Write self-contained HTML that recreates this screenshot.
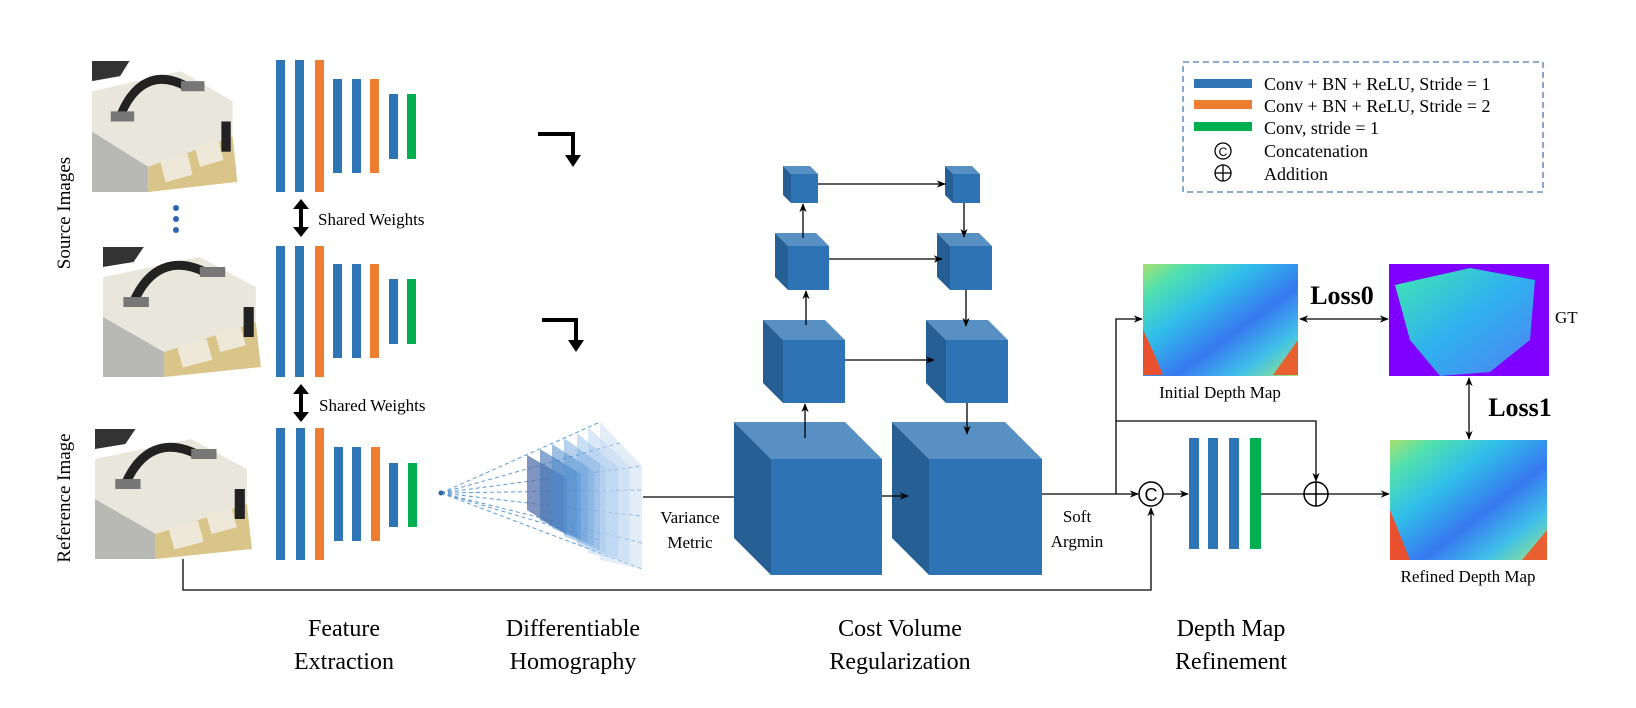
<!DOCTYPE html>
<html><head><meta charset="utf-8"><style>
html,body{margin:0;padding:0;background:#fff;}
svg{display:block;font-family:"Liberation Serif",serif;}
</style></head><body>
<svg width="1636" height="708" viewBox="0 0 1636 708" xmlns="http://www.w3.org/2000/svg">
<defs>
<marker id="ah" viewBox="0 0 10 10" refX="9" refY="5" markerWidth="7" markerHeight="7" orient="auto-start-reverse"><path d="M0,1 L10,5 L0,9 L3,5 z" fill="#000"/></marker>
<linearGradient id="dm" x1="0" y1="0" x2="1" y2="1">
<stop offset="0" stop-color="#a8e070"/><stop offset="0.15" stop-color="#50e0b0"/><stop offset="0.35" stop-color="#30c0e8"/><stop offset="0.6" stop-color="#3878f0"/><stop offset="0.8" stop-color="#40c0e8"/><stop offset="1" stop-color="#a0e880"/>
</linearGradient>
<linearGradient id="gtg" x1="0" y1="0" x2="1" y2="1">
<stop offset="0" stop-color="#40e8b0"/><stop offset="0.5" stop-color="#30b0f0"/><stop offset="1" stop-color="#5080f0"/>
</linearGradient>
<g id="photo">
<rect x="0" y="0" width="160" height="130" fill="#fff"/>
<polygon points="0,30 95,10 150,40 150,75 60,105 0,70" fill="#e9e6dc"/>
<polygon points="0,70 60,105 60,130 0,130" fill="#b8b8b4"/>
<polygon points="60,105 150,75 155,120 60,130" fill="#d9c58a"/>
<rect x="75" y="95" width="30" height="22" fill="#eee8d8" transform="rotate(-15 90 106)"/>
<rect x="112" y="82" width="26" height="20" fill="#eee8d8" transform="rotate(-15 125 92)"/>
<path d="M30,55 C45,20 70,10 100,25" stroke="#222" stroke-width="9" fill="none"/>
<rect x="20" y="50" width="25" height="10" fill="#777"/>
<rect x="95" y="20" width="25" height="10" fill="#777"/>
<rect x="138" y="60" width="10" height="30" fill="#222"/>
<path d="M0,0 L40,0 L30,15 L0,20 z" fill="#333"/>
</g>
</defs>

<svg x="92" y="61" width="150" height="131" viewBox="0 0 160 130" preserveAspectRatio="none"><use href="#photo"/></svg>
<svg x="103" y="247" width="163" height="130" viewBox="0 0 160 130" preserveAspectRatio="none"><use href="#photo"/></svg>
<svg x="95" y="429" width="162" height="130" viewBox="0 0 160 130" preserveAspectRatio="none"><use href="#photo"/></svg>

<text transform="translate(70,213) rotate(-90)" font-size="19" text-anchor="middle">Source Images</text>
<text transform="translate(70,498) rotate(-90)" font-size="19" text-anchor="middle">Reference Image</text>
<circle cx="176" cy="208" r="3" fill="#2e65b0"/><circle cx="176" cy="219" r="3" fill="#2e65b0"/><circle cx="176" cy="230" r="3" fill="#2e65b0"/>

<g>
<rect x="276" y="60" width="9" height="132" fill="#2e75b6"/><rect x="295" y="60" width="9" height="132" fill="#2e75b6"/><rect x="315" y="60" width="9" height="132" fill="#ed7d31"/>
<rect x="333" y="79" width="9" height="94" fill="#2e75b6"/><rect x="352" y="79" width="9" height="94" fill="#2e75b6"/><rect x="370" y="79" width="9" height="94" fill="#ed7d31"/>
<rect x="389" y="94" width="9" height="65" fill="#2e75b6"/><rect x="407" y="94" width="9" height="65" fill="#00b050"/>
</g>
<g>
<rect x="276" y="246" width="9" height="131" fill="#2e75b6"/><rect x="295" y="246" width="9" height="131" fill="#2e75b6"/><rect x="315" y="246" width="9" height="131" fill="#ed7d31"/>
<rect x="333" y="264" width="9" height="94" fill="#2e75b6"/><rect x="352" y="264" width="9" height="94" fill="#2e75b6"/><rect x="370" y="264" width="9" height="94" fill="#ed7d31"/>
<rect x="389" y="279" width="9" height="65" fill="#2e75b6"/><rect x="407" y="279" width="9" height="65" fill="#00b050"/>
</g>
<g>
<rect x="276" y="428" width="9" height="132" fill="#2e75b6"/><rect x="296" y="428" width="9" height="132" fill="#2e75b6"/><rect x="315" y="428" width="9" height="132" fill="#ed7d31"/>
<rect x="334" y="447" width="9" height="94" fill="#2e75b6"/><rect x="352" y="447" width="9" height="94" fill="#2e75b6"/><rect x="371" y="447" width="9" height="94" fill="#ed7d31"/>
<rect x="389" y="463" width="9" height="64" fill="#2e75b6"/><rect x="408" y="463" width="9" height="64" fill="#00b050"/>
</g>

<g fill="#000">
<rect x="299" y="207" width="4" height="22"/><polygon points="293,209 301,199 309,209"/><polygon points="293,227 301,237 309,227"/>
<rect x="299" y="392" width="4" height="22"/><polygon points="293,394 301,384 309,394"/><polygon points="293,412 301,422 309,412"/>
</g>
<text x="318" y="225" font-size="17">Shared Weights</text>
<text x="319" y="411" font-size="17">Shared Weights</text>

<g fill="#000">
<rect x="538" y="132" width="37" height="4"/><rect x="571" y="132" width="4" height="25"/><polygon points="565,155 581,155 573,167"/>
<rect x="542" y="318" width="36" height="4"/><rect x="574" y="318" width="4" height="24"/><polygon points="568,340 584,340 576,352"/>
</g>

<g stroke="#5b9bd5" stroke-width="1" stroke-dasharray="4,3" fill="none">
<line x1="441" y1="493" x2="600" y2="422"/><line x1="441" y1="493" x2="642" y2="466"/><line x1="441" y1="493" x2="642" y2="490"/><line x1="441" y1="493" x2="642" y2="516"/><line x1="441" y1="493" x2="642" y2="543"/><line x1="441" y1="493" x2="642" y2="569"/><line x1="441" y1="493" x2="620" y2="443"/><line x1="441" y1="493" x2="600" y2="540"/>
</g>
<g>
<polygon points="527,455 567,478 567,535 527,510" fill="#5470a8" fill-opacity="0.75"/>
<polygon points="540,449 581,474 581,540 540,520" fill="#4a78b8" fill-opacity="0.65"/>
<polygon points="552,444 594,471 594,546 552,528" fill="#4f8ccc" fill-opacity="0.55"/>
<polygon points="564,438 606,468 606,553 564,536" fill="#5a9ad6" fill-opacity="0.45"/>
<polygon points="577,433 618,467 618,558 577,545" fill="#7aaee0" fill-opacity="0.4"/>
<polygon points="588,427 630,466 630,563 588,553" fill="#a4c6ea" fill-opacity="0.4"/>
<polygon points="600,422 642,466 642,569 600,560" fill="#c5dbf1" fill-opacity="0.5"/>
</g>
<circle cx="441" cy="493" r="2.5" fill="#2e65a0"/>
<line x1="643" y1="497" x2="752" y2="497" stroke="#000" stroke-width="1.3" marker-end="url(#ah)"/>
<text x="690" y="523" font-size="17" text-anchor="middle">Variance</text>
<text x="690" y="548" font-size="17" text-anchor="middle">Metric</text>

<g>
<polygon points="734,422 845,422 882,459 771,459" fill="#5890c4"/><polygon points="734,422 771,459 771,575 734,538" fill="#255f93"/><rect x="771" y="459" width="111" height="116" fill="#2e74b5"/>
<polygon points="892,422 1005,422 1042,459 929,459" fill="#5890c4"/><polygon points="892,422 929,459 929,575 892,538" fill="#255f93"/><rect x="929" y="459" width="113" height="116" fill="#2e74b5"/>
<polygon points="763,320 825,320 845,340 783,340" fill="#5890c4"/><polygon points="763,320 783,340 783,403 763,383" fill="#255f93"/><rect x="783" y="340" width="62" height="63" fill="#2e74b5"/>
<polygon points="926,320 988,320 1008,340 946,340" fill="#5890c4"/><polygon points="926,320 946,340 946,403 926,383" fill="#255f93"/><rect x="946" y="340" width="62" height="63" fill="#2e74b5"/>
<polygon points="775,233 816,233 829,246 788,246" fill="#5890c4"/><polygon points="775,233 788,246 788,290 775,277" fill="#255f93"/><rect x="788" y="246" width="41" height="44" fill="#2e74b5"/>
<polygon points="937,233 979,233 992,246 950,246" fill="#5890c4"/><polygon points="937,233 950,246 950,290 937,277" fill="#255f93"/><rect x="950" y="246" width="42" height="44" fill="#2e74b5"/>
<polygon points="783,166 810,166 818,174 791,174" fill="#5890c4"/><polygon points="783,166 791,174 791,203 783,195" fill="#255f93"/><rect x="791" y="174" width="27" height="29" fill="#2e74b5"/>
<polygon points="945,166 972,166 980,174 953,174" fill="#5890c4"/><polygon points="945,166 953,174 953,203 945,195" fill="#255f93"/><rect x="953" y="174" width="27" height="29" fill="#2e74b5"/>
</g>
<g stroke="#000" stroke-width="1.3" fill="none" marker-end="url(#ah)">
<line x1="818" y1="184" x2="945" y2="184"/>
<line x1="829" y1="259" x2="942" y2="259"/>
<line x1="845" y1="360" x2="934" y2="360"/>
<line x1="882" y1="496" x2="908" y2="496"/>
<line x1="805" y1="438" x2="805" y2="404"/>
<line x1="806" y1="325" x2="806" y2="291"/>
<line x1="803" y1="238" x2="803" y2="204"/>
<line x1="964" y1="203" x2="964" y2="237"/>
<line x1="966" y1="290" x2="966" y2="326"/>
<line x1="967" y1="403" x2="967" y2="434"/>
</g>

<g stroke="#000" stroke-width="1.3" fill="none">
<polyline points="183,559 183,590 1151,590 1151,508" marker-end="url(#ah)"/>
<line x1="1042" y1="494" x2="1138" y2="494" marker-end="url(#ah)"/>
<polyline points="1116,494 1116,319 1142,319" marker-end="url(#ah)"/>
<polyline points="1116,421 1316,421 1316,481" marker-end="url(#ah)"/>
<line x1="1163" y1="494" x2="1188" y2="494" marker-end="url(#ah)"/>
<line x1="1261" y1="494" x2="1304" y2="494"/>
<line x1="1328" y1="494" x2="1389" y2="494" marker-end="url(#ah)"/>
<line x1="1300" y1="319" x2="1388" y2="319" marker-start="url(#ah)" marker-end="url(#ah)"/>
<line x1="1469" y1="378" x2="1469" y2="439" marker-start="url(#ah)" marker-end="url(#ah)"/>
</g>
<circle cx="1151" cy="494" r="12" fill="#fff" stroke="#000" stroke-width="1.5"/>
<text x="1151" y="501" font-family="Liberation Sans,sans-serif" font-size="18" text-anchor="middle">C</text>
<circle cx="1316" cy="494" r="12" fill="#fff" stroke="#000" stroke-width="1.5"/>
<line x1="1304" y1="494" x2="1328" y2="494" stroke="#000" stroke-width="1.5"/><line x1="1316" y1="482" x2="1316" y2="506" stroke="#000" stroke-width="1.5"/>
<rect x="1189" y="438" width="10" height="111" fill="#2e75b6"/><rect x="1208" y="438" width="10" height="111" fill="#2e75b6"/><rect x="1229" y="438" width="10" height="111" fill="#2e75b6"/><rect x="1250" y="438" width="11" height="111" fill="#00b050"/>
<text x="1077" y="522" font-size="17" text-anchor="middle">Soft</text>
<text x="1077" y="547" font-size="17" text-anchor="middle">Argmin</text>

<rect x="1143" y="264" width="155" height="112" fill="url(#dm)"/>
<path d="M1143,330 q10,20 20,45 l-20,0z" fill="#e85030"/>
<path d="M1298,340 l0,35 -25,0z" fill="#e86030"/>
<rect x="1389" y="264" width="160" height="112" fill="#7f00ff"/>
<path d="M1395,285 L1470,268 L1535,280 L1530,340 L1490,372 L1440,376 L1410,340 Z" fill="url(#gtg)"/>
<rect x="1390" y="440" width="157" height="120" fill="url(#dm)"/>
<path d="M1390,510 q10,25 20,50 l-20,0z" fill="#e85030"/>
<path d="M1547,530 l0,30 -25,0z" fill="#e86030"/>
<text x="1342" y="304" font-size="26" font-weight="bold" text-anchor="middle">Loss0</text>
<text x="1520" y="416" font-size="26" font-weight="bold" text-anchor="middle">Loss1</text>
<text x="1555" y="323" font-size="17">GT</text>
<text x="1220" y="398" font-size="17" text-anchor="middle">Initial Depth Map</text>
<text x="1468" y="582" font-size="17" text-anchor="middle">Refined Depth Map</text>

<rect x="1183" y="62" width="360" height="130" fill="none" stroke="#4a78b0" stroke-width="1.3" stroke-dasharray="6,4"/>
<rect x="1194" y="79" width="58" height="9" fill="#2e75b6"/>
<rect x="1194" y="100" width="58" height="9" fill="#ed7d31"/>
<rect x="1194" y="122" width="58" height="9" fill="#00b050"/>
<g font-size="18">
<text x="1264" y="90">Conv + BN + ReLU, Stride = 1</text>
<text x="1264" y="112">Conv + BN + ReLU, Stride = 2</text>
<text x="1264" y="134">Conv, stride = 1</text>
<text x="1264" y="157">Concatenation</text>
<text x="1264" y="180">Addition</text>
</g>
<circle cx="1223" cy="151" r="8" fill="none" stroke="#000" stroke-width="1.3"/>
<text x="1223" y="156" font-family="Liberation Sans,sans-serif" font-size="12" text-anchor="middle">C</text>
<circle cx="1223" cy="173" r="8" fill="none" stroke="#000" stroke-width="1.3"/>
<line x1="1215" y1="173" x2="1231" y2="173" stroke="#000" stroke-width="1.3"/><line x1="1223" y1="165" x2="1223" y2="181" stroke="#000" stroke-width="1.3"/>

<g font-size="24" text-anchor="middle">
<text x="344" y="636">Feature</text><text x="344" y="669">Extraction</text>
<text x="573" y="636">Differentiable</text><text x="573" y="669">Homography</text>
<text x="900" y="636">Cost Volume</text><text x="900" y="669">Regularization</text>
<text x="1231" y="636">Depth Map</text><text x="1231" y="669">Refinement</text>
</g>
</svg>
</body></html>
